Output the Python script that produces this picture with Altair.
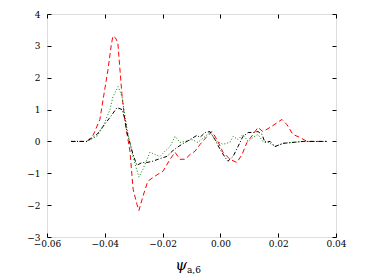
import altair as alt
import pandas as pd

red_x = [-0.0517, -0.0462, -0.0440, -0.0417, -0.0406, -0.0389, -0.0378, -0.0372, -0.0363, -0.0355,
         -0.0340, -0.0330, -0.0313, -0.0302, -0.0289, -0.0282, -0.0268, -0.0251, -0.0233,
         -0.0216, -0.0199, -0.0174, -0.0157, -0.0140, -0.0122, -0.0105, -0.0088, -0.0071,
         -0.0046, -0.0029, -0.0012, 0.0009, 0.0033, 0.0057, 0.0075, 0.0092, 0.0113, 0.0130,
         0.0147, 0.0172, 0.0213, 0.0230, 0.0251, 0.0275, 0.0300, 0.0369]
red_y = [0.0, 0.0, 0.2, 0.69, 1.31, 2.25, 3.0, 3.31, 3.25, 3.1,
         1.4, 0.6, -0.3, -1.5, -1.97, -2.17, -1.72, -1.25, -1.13,
         -1.03, -0.94, -0.56, -0.34, -0.56, -0.56, -0.41, -0.31, -0.1,
         0.16, 0.31, 0.06, -0.34, -0.56, -0.66, -0.41, -0.03, 0.22, 0.44,
         0.31, 0.44, 0.69, 0.53, 0.22, 0.125, 0.0, 0.0]

green_x = [-0.0517, -0.0462, -0.0427, -0.0406, -0.0382, -0.0372, -0.0354, -0.0340, -0.0330,
           -0.0323, -0.0302, -0.0289, -0.0282, -0.0268, -0.0254, -0.0244, -0.0226, -0.0209,
           -0.0192, -0.0174, -0.0157, -0.0140, -0.0122, -0.0098, -0.0078, -0.0036, -0.0012,
           0.0009, 0.0033, 0.0044, 0.0061, 0.0078, 0.0096, 0.0113, 0.0130, 0.0147, 0.0161,
           0.0189, 0.0217, 0.0251, 0.0286, 0.0369]
green_y = [0.0, 0.0, 0.16, 0.47, 1.0, 1.4, 1.72, 1.4, 0.78,
           0.38, -0.5, -0.9, -1.12, -0.875, -0.56, -0.34, -0.41, -0.47,
           -0.31, -0.16, 0.16, -0.03, 0.0, 0.06, -0.03, 0.28, 0.0,
           -0.09, -0.03, 0.16, 0.06, 0.22, 0.0, 0.125, 0.22, 0.0, 0.0,
           -0.16, -0.06, -0.03, 0.0, 0.0]

black_x = [-0.0517, -0.0462, -0.0427, -0.0406, -0.0375, -0.0358, -0.0340, -0.0330, -0.0323,
           -0.0313, -0.0302, -0.0289, -0.0271, -0.0254, -0.0233, -0.0216, -0.0185, -0.0167,
           -0.0150, -0.0133, -0.0105, -0.0081, -0.0071, -0.0053, -0.0036, -0.0019, -0.0001,
           0.0016, 0.0026, 0.0044, 0.0061, 0.0078, 0.0096, 0.0113, 0.0130, 0.0144, 0.0154,
           0.0172, 0.0189, 0.0217, 0.0251, 0.0286, 0.0369]
black_y = [0.0, 0.0, 0.22, 0.47, 0.84, 1.06, 1.0, 0.69, 0.28,
           -0.05, -0.42, -0.75, -0.66, -0.66, -0.62, -0.56, -0.47, -0.31,
           -0.19, -0.09, 0.06, 0.19, 0.125, 0.28, 0.31, 0.06, -0.25,
           -0.5, -0.62, -0.47, -0.16, 0.16, 0.28, 0.28, 0.31, 0.22, -0.03,
           0.0, -0.16, -0.06, -0.03, 0.0, 0.0]

x_ticks = [-0.06, -0.04, -0.02, 0.00, 0.02, 0.04]
y_ticks = [-3, -2, -1, 0, 1, 2, 3, 4]

W, H = 289, 223
FONT = "DejaVu Serif"

def series(xs, ys, name):
    return pd.DataFrame({"x": xs, "y": ys, "s": name})

df_red = series(red_x, red_y, "red")
df_green = series(green_x, green_y, "green")
df_black = series(black_x, black_y, "black")

xscale = alt.Scale(domain=[-0.06, 0.04], nice=False, zero=False)
yscale = alt.Scale(domain=[-3, 4], nice=False, zero=False)

fmt_x = "replace(format(datum.value, '.2f'), '-', '\u2212')"
fmt_y = "replace(format(datum.value, 'd'), '-', '\u2212')"

ax_bottom = alt.Axis(orient="bottom", values=x_ticks, offset=-4, tickSize=4, domain=False,
                     grid=False, labelFont=FONT, labelFontSize=9, labelColor="black",
                     tickColor="black", labelPadding=2, title=None, labelExpr=fmt_x,
                     labelFlush=False, labelOverlap=False)
ax_left = alt.Axis(orient="left", values=y_ticks, offset=-4, tickSize=4, domain=False,
                   grid=False, labelFont=FONT, labelFontSize=9, labelColor="black",
                   tickColor="black", labelPadding=7, title=None, labelExpr=fmt_y,
                   labelFlush=False, labelOverlap=False)
ax_top = alt.Axis(orient="top", values=x_ticks, offset=-4, tickSize=4, domain=False,
                  grid=False, labels=False, tickColor="black", title=None)
ax_right = alt.Axis(orient="right", values=y_ticks, offset=-4, tickSize=4, domain=False,
                    grid=False, labels=False, tickColor="black", title=None)

red = alt.Chart(df_red).mark_line(color="#ff0000", strokeWidth=1, strokeDash=[5, 3]).encode(
    x=alt.X("x:Q", scale=xscale, axis=ax_bottom),
    y=alt.Y("y:Q", scale=yscale, axis=ax_left),
    order="x:Q",
)
green = alt.Chart(df_green).mark_line(color="#008000", strokeWidth=1, strokeDash=[1, 2]).encode(
    x=alt.X("x:Q", scale=xscale, axis=ax_top),
    y=alt.Y("y:Q", scale=yscale, axis=ax_right),
    order="x:Q",
)
black = alt.Chart(df_black).mark_line(color="black", strokeWidth=1, strokeDash=[4, 2, 1, 2]).encode(
    x=alt.X("x:Q", scale=xscale, axis=None),
    y=alt.Y("y:Q", scale=yscale, axis=None),
    order="x:Q",
)

label_df = pd.DataFrame({"t": ["\u03c8"], "s": ["a,6"]})
psi = alt.Chart(label_df).mark_text(font=FONT, fontSize=15, fontStyle="italic", align="center",
                                    baseline="middle", color="black").encode(
    text="t:N", x=alt.value(134), y=alt.value(251))
sub = alt.Chart(label_df).mark_text(font=FONT, fontSize=9, align="left",
                                    baseline="middle", color="black").encode(
    text="s:N", x=alt.value(140), y=alt.value(256))

chart = alt.layer(red, green, black, psi, sub).resolve_axis(
    x="independent", y="independent"
).properties(
    width=W, height=H,
    autosize=alt.AutoSizeParams(type="none"),
    padding={"left": 39, "top": 6, "right": 12, "bottom": 40},
).configure_view(stroke="black", strokeWidth=1).configure(background="white")

chart.save("out.html", embed_options={"renderer": "svg", "actions": False})
